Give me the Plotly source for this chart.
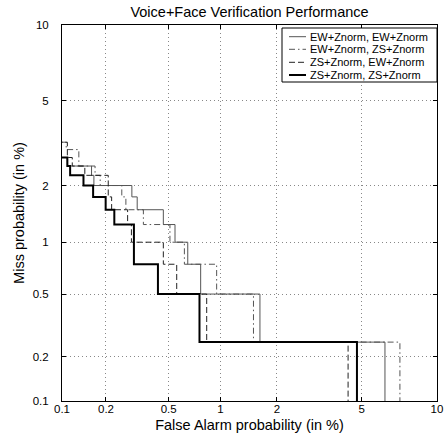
import plotly.graph_objects as go
from statistics import NormalDist

# ---------------- data (values in %) ----------------
tick_pct = [0.1, 0.2, 0.5, 1, 2, 5, 10]
tick_labels = ["0.1", "0.2", "0.5", "1", "2", "5", "10"]

series_names = ["EW+Znorm, EW+Znorm", "EW+Znorm, ZS+Znorm",
                "ZS+Znorm, EW+Znorm", "ZS+Znorm, ZS+Znorm"]

# DET staircases: miss level (%) and the false-alarm rate (%) where that level ends
ew_ew_miss = [2.75, 2.5, 2.25, 2.0, 1.75, 1.5, 1.25, 1.0, 0.75, 0.5, 0.25]
ew_ew_fa = [0.109, 0.160, 0.166, 0.295, 0.319, 0.464, 0.546, 0.650, 0.773, 1.636, 6.27]

ew_zs_miss = [3.25, 3.0, 2.5, 2.25, 2.0, 1.75, 1.5, 1.25, 1.0, 0.75, 0.5, 0.25]
ew_zs_fa = [0.107, 0.131, 0.169, 0.183, 0.254, 0.270, 0.349, 0.509, 0.621, 0.953, 1.513, 7.21]

zs_ew_miss = [3.25, 2.75, 2.5, 2.25, 1.75, 1.5, 1.25, 1.0, 0.75, 0.5, 0.25]
zs_ew_fa = [0.109, 0.118, 0.144, 0.207, 0.218, 0.277, 0.293, 0.464, 0.559, 0.837, 4.36]

zs_zs_miss = [2.75, 2.5, 2.25, 2.0, 1.75, 1.5, 1.25, 0.75, 0.5, 0.25]
zs_zs_fa = [0.109, 0.114, 0.141, 0.164, 0.199, 0.227, 0.304, 0.430, 0.761, 4.77]

fa_start = 0.05   # curves enter from the left of the axis
miss_end = 0.05   # curves leave through the bottom (zero misses)

nd = NormalDist()


def probit(pct):
    return nd.inv_cdf(pct / 100.0)


FONT = "Liberation Sans, Arial, Helvetica, sans-serif"

styles = [
    dict(color="#555555", width=1, dash="solid"),
    dict(color="#555555", width=1, dash="6px,3px,1.5px,3px"),
    dict(color="#222222", width=1, dash="6px,3px"),
    dict(color="#000000", width=2, dash="solid"),
]
curves = [(ew_ew_fa, ew_ew_miss), (ew_zs_fa, ew_zs_miss),
          (zs_ew_fa, zs_ew_miss), (zs_zs_fa, zs_zs_miss)]

fig = go.Figure()
for name, (fa, miss), st in zip(series_names, curves, styles):
    xs = [probit(v) for v in [fa_start] + fa]
    ys = [probit(v) for v in miss + [miss_end]]
    fig.add_trace(go.Scatter(x=xs, y=ys, mode="lines", name=name,
                             line=dict(shape="hv", **st), showlegend=False,
                             hoverinfo="skip"))

tv = [probit(v) for v in tick_pct]
rng = [probit(tick_pct[0]) - 1e-4, probit(tick_pct[-1]) + 1e-4]

axis_common = dict(
    range=rng, tickvals=tv, ticktext=tick_labels, automargin=False,
    showgrid=True, gridcolor="#888888", griddash="1px,3px", gridwidth=1,
    zeroline=False, showline=True, linecolor="black", linewidth=1,
    mirror="ticks", ticks="inside", ticklen=4, tickcolor="black",
    tickfont=dict(family=FONT, size=11.5, color="black"),
)

fig.update_xaxes(**axis_common, ticklabelstandoff=-3,
                 title=dict(text="False Alarm probability (in %)",
                            font=dict(family=FONT, size=14.5, color="black"),
                            standoff=6))
fig.update_yaxes(**axis_common, ticklabelstandoff=10,
                 title=dict(text="Miss probability (in %)",
                            font=dict(family=FONT, size=14.5, color="black"),
                            standoff=4))

# ---------- legend (box, line samples and labels in paper coords) ----------
L, R, T, B = 62, 437, 25, 401
W, H = R - L, B - T


def px(xp):
    return (xp - L) / W


def py(yp):
    return (B - yp) / H


shapes = [dict(type="rect", xref="paper", yref="paper",
               x0=px(282), x1=1.0, y0=py(82), y1=py(28),
               line=dict(color="black", width=1), fillcolor="white")]
annotations = []
row_y = [36.7, 49.3, 62.3, 75.0]
for name, st, yy in zip(series_names, styles, row_y):
    shapes.append(dict(type="line", xref="paper", yref="paper",
                       x0=px(289), x1=px(306), y0=py(yy), y1=py(yy),
                       line=dict(color=st["color"], width=st["width"],
                                 dash=st["dash"])))
    annotations.append(dict(text=name, xref="paper", yref="paper",
                            x=px(308), y=py(yy), xanchor="left",
                            yanchor="middle", showarrow=False,
                            font=dict(family=FONT, size=11, color="black")))

fig.update_layout(
    width=446, height=437,
    margin=dict(l=L, r=446 - R, t=T, b=437 - B),
    paper_bgcolor="white", plot_bgcolor="white",
    title=dict(text="Voice+Face Verification Performance",
               x=0.5, xref="paper", xanchor="center",
               y=1 - 11.7 / 437, yref="container", yanchor="middle",
               font=dict(family=FONT, size=14.5, color="black")),
    shapes=shapes, annotations=annotations, showlegend=False,
)

fig.write_html("out.html", config={"displayModeBar": False},
               post_script="document.body.style.margin='0';"
                           "document.body.style.overflow='hidden';")
